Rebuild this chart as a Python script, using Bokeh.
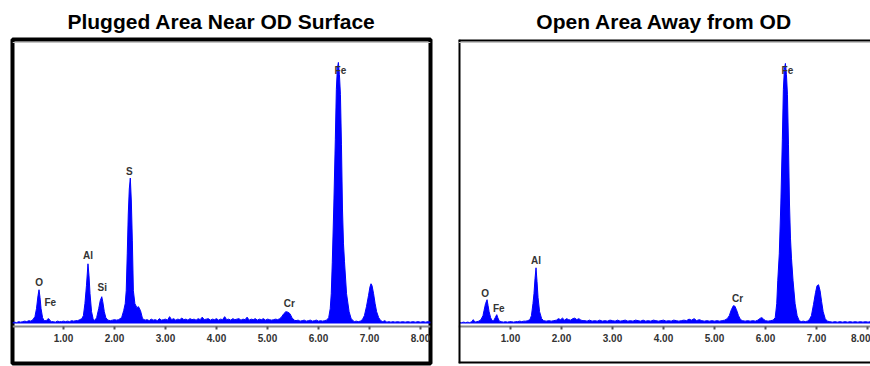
from bokeh.plotting import figure
from bokeh.layouts import row
from bokeh.models import LinearAxis, FixedTicker, NumeralTickFormatter, Span, Range1d
from bokeh.core.properties import value
from bokeh.embed import file_html
from bokeh.resources import INLINE

# ---------------- data ----------------
titles = ["Plugged Area Near OD Surface", "Open Area Away from OD"]
tick_values = [1, 2, 3, 4, 5, 6, 7, 8]

plugged_energy = [
    0.00, 0.04, 0.08, 0.12, 0.16, 0.20, 0.24, 0.28, 0.32, 0.36, 0.40,
    0.44, 0.47, 0.50, 0.52, 0.54, 0.56, 0.59, 0.62, 0.66, 0.69, 0.71, 0.73, 0.76,
    0.80, 0.84, 0.88, 0.92, 0.96, 1.00, 1.04, 1.08, 1.12, 1.16, 1.20, 1.24, 1.28, 1.32, 1.36,
    1.39, 1.42, 1.45, 1.48, 1.50, 1.52, 1.55, 1.58, 1.61, 1.65, 1.69, 1.72, 1.75, 1.77, 1.80, 1.83, 1.87,
    1.92, 1.96, 2.00, 2.04, 2.08,
    2.14, 2.18, 2.21, 2.23, 2.25, 2.27, 2.29, 2.31, 2.33, 2.35, 2.37, 2.40, 2.44, 2.47, 2.51, 2.55,
    2.60, 2.64, 2.68, 2.72, 2.76, 2.80, 2.84, 2.88, 2.92, 2.96,
    3.00, 3.04, 3.08, 3.12, 3.16, 3.20, 3.24, 3.28, 3.32, 3.36,
    3.40, 3.44, 3.48, 3.52, 3.56, 3.60, 3.64, 3.68, 3.72, 3.76,
    3.80, 3.84, 3.88, 3.92, 3.96, 4.00, 4.04, 4.08, 4.12, 4.16,
    4.20, 4.24, 4.28, 4.32, 4.36, 4.40, 4.44, 4.48, 4.52, 4.56,
    4.60, 4.64, 4.68, 4.72, 4.76, 4.80, 4.84, 4.88, 4.92, 4.96,
    5.00, 5.04, 5.08, 5.12, 5.16, 5.20, 5.24,
    5.28, 5.32, 5.36, 5.40, 5.44, 5.48, 5.52,
    5.56, 5.60, 5.64, 5.68, 5.72, 5.76, 5.80, 5.84, 5.88, 5.92, 5.96, 6.00, 6.04, 6.08, 6.12, 6.16, 6.20,
    6.23, 6.25, 6.27, 6.30, 6.33, 6.35, 6.37, 6.39, 6.41, 6.43, 6.45, 6.47, 6.49, 6.51, 6.55, 6.60, 6.64,
    6.70, 6.74, 6.78, 6.82, 6.86,
    6.90, 6.94, 6.98, 7.01, 7.03, 7.05, 7.08, 7.11, 7.14, 7.18, 7.22,
    7.26, 7.30, 7.34, 7.38, 7.42, 7.46, 7.50, 7.55, 7.60, 7.65, 7.70, 7.75, 7.80, 7.85, 7.90, 7.95,
    8.00, 8.05, 8.10, 8.15, 8.20,
]
plugged_counts = [
    10, 15, 10, 20, 15, 20, 25, 20, 30, 25, 40,
    70, 150, 280, 340, 260, 150, 60, 30, 30, 45, 50, 35, 20,
    20, 15, 25, 20, 20, 25, 20, 25, 20, 30, 25, 30, 30, 40, 50,
    80, 200, 380, 600, 480, 300, 120, 50, 30, 60, 150, 230, 270, 220, 120, 60, 35,
    30, 35, 40, 35, 40,
    60, 130, 200, 330, 700, 1100, 1350, 1460, 1230, 830, 330, 200, 160, 170, 130, 50,
    35, 40, 30, 45, 35, 40, 30, 50, 35, 40,
    45, 35, 70, 40, 50, 35, 45, 40, 55, 40,
    45, 35, 50, 40, 45, 35, 50, 40, 65, 40,
    45, 50, 35, 45, 40, 50, 35, 45, 40, 70,
    40, 45, 35, 50, 40, 45, 50, 35, 45, 40,
    65, 35, 45, 40, 50, 35, 45, 40, 50, 35,
    45, 40, 35, 40, 45, 40, 50,
    70, 100, 120, 115, 100, 60, 35,
    30, 35, 25, 30, 35, 25, 30, 35, 25, 30, 35, 25, 30, 25, 30, 35, 60,
    150, 300, 610, 1180, 1850, 2350, 2560, 2620, 2500, 2300, 1800, 1150, 800, 620, 300, 120, 50,
    20, 25, 20, 25, 40,
    80, 170, 280, 370, 400, 380, 300, 200, 120, 60, 30,
    20, 30, 15, 20, 15, 20, 15, 20, 15, 20, 15, 20, 15, 20, 15, 20,
    15, 20, 15, 20, 15,
]

open_energy = [
    0.00, 0.04, 0.08, 0.12, 0.16, 0.20, 0.24, 0.27, 0.30, 0.34, 0.38, 0.42,
    0.46, 0.48, 0.51, 0.54, 0.56, 0.58, 0.61, 0.64, 0.67, 0.70, 0.73, 0.75, 0.78,
    0.82, 0.86, 0.90, 0.94, 0.98, 1.02, 1.06, 1.10, 1.14, 1.18, 1.22, 1.26, 1.30, 1.34, 1.38,
    1.41, 1.44, 1.46, 1.48, 1.50, 1.52, 1.54, 1.57, 1.61, 1.65,
    1.70, 1.75, 1.80, 1.85, 1.90, 1.94, 1.98, 2.02, 2.06, 2.10, 2.14, 2.18, 2.22, 2.26, 2.30, 2.34, 2.38, 2.42,
    2.46, 2.50, 2.55, 2.60, 2.65, 2.70, 2.75, 2.80, 2.85, 2.90, 2.95,
    3.00, 3.05, 3.10, 3.15, 3.20, 3.25, 3.30, 3.35, 3.40, 3.45,
    3.50, 3.55, 3.60, 3.65, 3.70, 3.75, 3.80, 3.85, 3.90, 3.95,
    4.00, 4.05, 4.10, 4.15, 4.20, 4.25, 4.30, 4.35, 4.40, 4.45,
    4.50, 4.55, 4.60, 4.65, 4.70, 4.75, 4.80, 4.85, 4.90, 4.95,
    5.00, 5.05, 5.10, 5.15, 5.20, 5.25,
    5.29, 5.33, 5.37, 5.40, 5.43, 5.47, 5.51,
    5.55, 5.60, 5.65, 5.70, 5.75, 5.80, 5.85, 5.90, 5.93, 5.96, 6.00, 6.05, 6.10, 6.15, 6.19,
    6.22, 6.24, 6.27, 6.30, 6.33, 6.35, 6.37, 6.39, 6.41, 6.43, 6.45, 6.47, 6.49, 6.51, 6.54, 6.58, 6.62, 6.66,
    6.70, 6.74, 6.78, 6.82, 6.86,
    6.90, 6.94, 6.98, 7.01, 7.04, 7.07, 7.10, 7.13, 7.17, 7.21,
    7.26, 7.31, 7.36, 7.41, 7.46, 7.51, 7.56, 7.61, 7.66, 7.71, 7.76, 7.81, 7.86, 7.91,
    7.96, 8.01, 8.06, 8.11, 8.16,
]
open_counts = [
    10, 10, 15, 10, 15, 10, 20, 40, 15, 20, 25, 40,
    80, 130, 200, 240, 180, 120, 60, 30, 30, 60, 90, 60, 25,
    20, 15, 20, 15, 20, 20, 15, 20, 20, 25, 20, 25, 25, 30, 40,
    80, 200, 300, 450, 560, 420, 260, 120, 50, 30,
    25, 30, 25, 30, 35, 50, 40, 55, 35, 50, 40, 35, 50, 55, 40, 50, 35, 30,
    30, 25, 35, 25, 30, 25, 35, 25, 30, 25, 35,
    30, 25, 35, 25, 30, 35, 25, 30, 25, 35,
    30, 25, 35, 25, 30, 25, 35, 30, 25, 30,
    35, 25, 30, 25, 35, 30, 25, 30, 35, 30,
    45, 35, 50, 30, 40, 30, 25, 30, 25, 30,
    25, 30, 25, 30, 35, 50,
    80, 140, 180, 175, 140, 80, 40,
    30, 25, 30, 25, 30, 25, 35, 55, 60, 45, 30, 25, 30, 35, 60,
    200, 430, 700, 1200, 1850, 2350, 2550, 2610, 2500, 2300, 1800, 1200, 850, 650, 430, 200, 80, 30,
    20, 25, 20, 25, 40,
    80, 190, 310, 380, 390, 330, 220, 120, 50, 25,
    20, 15, 20, 15, 20, 15, 20, 15, 20, 15, 20, 15, 20, 15,
    20, 15, 20, 15, 20,
]

plugged_labels = ["O", "Fe", "Al", "Si", "S", "Cr", "Fe"]
plugged_label_energy = [0.52, 0.74, 1.48, 1.76, 2.29, 5.43, 6.43]
plugged_label_counts = [413, 213, 680, 363, 1530, 205, 2540]

open_labels = ["O", "Fe", "Al", "Cr", "Fe"]
open_label_energy = [0.50, 0.77, 1.50, 5.45, 6.43]
open_label_counts = [303, 153, 630, 247, 2537]

FONT = "Liberation Sans"
BLUE = "#0000ff"
Y0, Y1 = -400, 2850


def make_panel(title, energy, counts, labels, lx, ly, width, mbl, mbr, x0, x1, outline):
    p = figure(width=width, height=366, x_range=Range1d(x0, x1), y_range=Range1d(Y0, Y1),
               output_backend="svg", toolbar_location=None,
               x_axis_location=None, y_axis_location=None,
               min_border_left=mbl, min_border_right=mbr, min_border_top=38, min_border_bottom=3,
               title=title, background_fill_color="white", border_fill_color="white")
    p.grid.visible = False
    p.title.text_font = FONT
    p.title.text_font_size = "21px"
    p.title.text_font_style = "bold"
    p.title.text_color = "black"
    p.title.align = "center"
    p.title.standoff = 14
    if outline:
        p.outline_line_color = "black"
        p.outline_line_width = 4
    else:
        p.outline_line_color = None
        p.add_layout(Span(location=x0, dimension="height", line_color="black", line_width=4))
        p.add_layout(Span(location=Y1, dimension="width", line_color="black", line_width=4))
        p.add_layout(Span(location=Y0, dimension="width", line_color="black", line_width=4))
    p.add_layout(Span(location=Y1 - 30, dimension="width", line_color="#c4c4c4", line_width=1))

    ax = LinearAxis(fixed_location=-30, ticker=FixedTicker(ticks=tick_values),
                    formatter=NumeralTickFormatter(format="0.00"))
    ax.axis_line_color = "#8a8a8a"
    ax.axis_line_width = 2
    ax.major_tick_line_color = "#555555"
    ax.major_tick_line_width = 2
    ax.major_tick_in = 0
    ax.major_tick_out = 3
    ax.minor_tick_line_color = None
    ax.major_label_text_font = FONT
    ax.major_label_text_font_style = "bold"
    ax.major_label_text_font_size = "10px"
    ax.major_label_text_color = "#333333"
    ax.major_label_standoff = 4
    p.add_layout(ax, "below")

    p.varea(x=energy, y1=0, y2=counts, fill_color=BLUE)
    p.line(x=energy, y=counts, line_color=BLUE, line_width=1)
    p.text(x=lx, y=ly, text=labels, text_font=value(FONT), text_font_style="bold",
           text_font_size="10px", text_color="#333333", text_align="center",
           text_baseline="middle")
    return p


left = make_panel(titles[0], plugged_energy, plugged_counts, plugged_labels,
                  plugged_label_energy, plugged_label_counts,
                  448, 12, 18, 0.0, 418 / 51, True)
right = make_panel(titles[1], open_energy, open_counts, open_labels,
                   open_label_energy, open_label_counts,
                   422, 10, 0, -0.02, -0.02 + 412 / 51, False)

layout = row(left, right)
open("out.html", "w").write(file_html(layout, INLINE))
